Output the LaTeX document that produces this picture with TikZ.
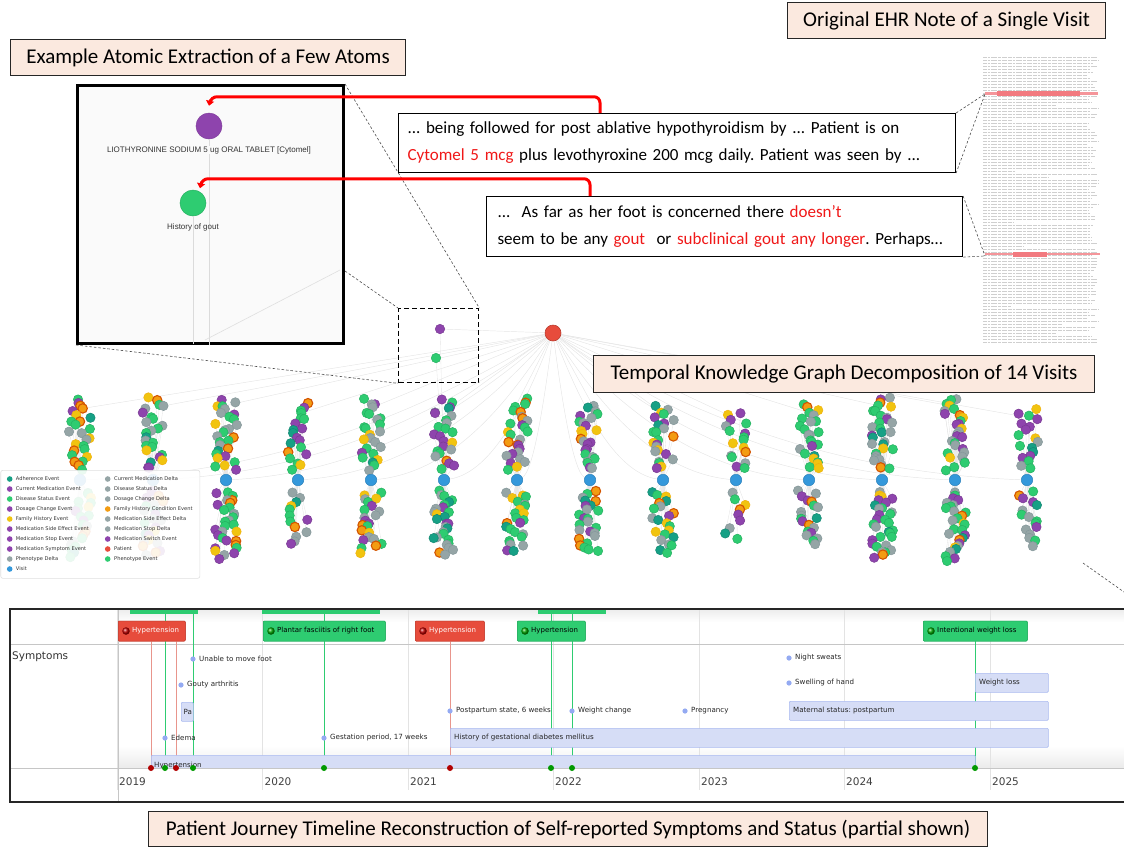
\documentclass[tikz,border=0pt]{standalone}
\usepackage{fontspec}
\setmainfont{Carlito}
\newfontfamily\arialf{Liberation Sans}
\newfontfamily\dejavu{DejaVu Sans}
\usetikzlibrary{arrows.meta,backgrounds}
\frenchspacing
\definecolor{peach}{HTML}{FBE9DF}
\definecolor{cgreen}{HTML}{2ECC71}
\definecolor{cgreenD}{HTML}{25B060}
\definecolor{cgray}{HTML}{95A5A6}
\definecolor{cgrayD}{HTML}{84979A}
\definecolor{cpurple}{HTML}{8E44AD}
\definecolor{corange}{HTML}{F39C12}
\definecolor{corangeD}{HTML}{D35400}
\definecolor{cyellow}{HTML}{F1C40F}
\definecolor{cyellowD}{HTML}{F0B010}
\definecolor{cteal}{HTML}{16A085}
\definecolor{cblue}{HTML}{3498DB}
\definecolor{cred}{HTML}{E74C3C}
\definecolor{tlred}{HTML}{E74C3C}
\definecolor{tlredline}{HTML}{E8958C}
\definecolor{tlgreen}{HTML}{2ECC71}
\definecolor{symdot}{HTML}{94AAF2}
\definecolor{symfill}{HTML}{D6DDF6}
\definecolor{symdraw}{HTML}{AABAF0}
\definecolor{hlred}{HTML}{F27A80}
\definecolor{txtred}{HTML}{F01818}
\tikzset{
  atom/.style={circle,inner sep=0pt,minimum size=9.4pt,line width=0.5pt},
  k1/.style={atom,fill=cgreen,draw=cgreenD},
  k2/.style={k1}, k3/.style={k1}, k4/.style={k1},
  k5/.style={atom,fill=cgray,draw=cgrayD},
  k6/.style={k5}, k7/.style={k5},
  k8/.style={atom,fill=cpurple,draw=cpurple!85!black},
  k9/.style={k8},
  k10/.style={atom,fill=corange,draw=corangeD,line width=1.1pt},
  k11/.style={atom,fill=cyellow,draw=cyellowD},
  k12/.style={atom,fill=cteal,draw=cteal!85!black},
  visit/.style={circle,inner sep=0pt,minimum size=11.5pt,fill=cblue,draw=cblue!85!black,line width=0.5pt},
  patient/.style={circle,inner sep=0pt,minimum size=16pt,fill=cred,draw=cred!80!black,line width=0.6pt},
  vedge/.style={draw=gray!20,line width=0.35pt},
  pedge/.style={draw=gray!20,line width=0.45pt},
  title/.style={draw=black!85,line width=1.1pt,fill=peach,inner sep=0pt,font=\fontsize{21}{24}\selectfont},
  textbox/.style={draw=black,line width=1.1pt,fill=white,align=left,font=\fontsize{17}{27}\selectfont},
  redarr/.style={draw=red,line width=3pt,rounded corners=6pt,-{Triangle[length=5pt,width=8pt]}},
  zoomline/.style={draw=black!70,line width=0.6pt,dash pattern=on 2.5pt off 2pt},
  ehrline/.style={draw=gray!38,line width=0.9pt,dash pattern=on 4pt off 0.9pt on 2.5pt off 0.9pt on 6pt off 0.9pt on 3pt off 0.9pt on 5pt off 0.9pt},
  ld/.style={circle,inner sep=0pt,minimum size=5.6pt},
  legtext/.style={anchor=west,inner sep=0pt,font=\dejavu\fontsize{5.1}{6}\selectfont,text=black!80},
  inlabel/.style={font=\arialf\fontsize{8}{9}\selectfont,text=black!80,inner sep=0pt},
  gridl/.style={draw=gray!22,line width=0.6pt},
  sepl/.style={draw=gray!45,line width=0.6pt},
  yearlab/.style={anchor=west,inner sep=0pt,font=\dejavu\fontsize{10.5}{12}\selectfont,text=black!75},
  tlbox/.style={rounded corners=1pt,inner sep=0pt,minimum height=20pt,anchor=west},
  rbox/.style={tlbox,fill=tlred,draw=tlred!85!black,line width=0.5pt},
  gbox/.style={tlbox,fill=tlgreen,draw=tlgreen!85!black,line width=0.5pt},
  tltext/.style={anchor=west,inner sep=0pt,font=\dejavu\fontsize{7}{8}\selectfont},
  rball/.style={circle,inner sep=0pt,minimum size=7.5pt,ball color=red!75!black},
  gball/.style={circle,inner sep=0pt,minimum size=7.5pt,ball color=green!65!black},
  rline/.style={draw=tlredline,line width=1pt},
  gline/.style={draw=tlgreen,line width=1pt},
  rdot/.style={circle,inner sep=0pt,minimum size=6pt,fill=red!70!black},
  gdot/.style={circle,inner sep=0pt,minimum size=6pt,fill=green!60!black},
  sdot/.style={circle,inner sep=0pt,minimum size=5.2pt,fill=symdot},
  stext/.style={anchor=west,inner sep=0pt,font=\dejavu\fontsize{7.1}{8}\selectfont,text=black!85},
  sbox/.style={rounded corners=1pt,fill=symfill,draw=symdraw,line width=0.7pt,inner sep=0pt,minimum height=19pt,anchor=north west},
}
\begin{document}
\begin{tikzpicture}[x=1pt,y=-1pt]
\useasboundingbox (0,0) rectangle (1124,847);

% ---------------- EHR note page ----------------
\pgfmathsetseed{99}
\foreach \q in {0,...,95}{
  \pgfmathsetmacro{\yy}{57+3*\q}
  \pgfmathsetmacro{\ww}{rnd<0.12 ? 20+60*rnd : 110+6*rand}
  \draw[ehrline] (983,\yy) -- ++(\ww,0);
}
\fill[hlred!80] (985,92) rectangle (1098,94.6);
\fill[hlred] (997,90.5) rectangle (1080,96);
\fill[hlred!80] (985,252.5) rectangle (1100,255);
\fill[hlred] (1013,251.5) rectangle (1047,257);
\coordinate (hl1) at (985,94);
\coordinate (hl2) at (985,256);

% ---------------- Knowledge graph ----------------
\node[patient] (pat) at (553,333) {};
\pgfmathsetseed{12345}
\foreach \ci/\vx/\nt/\ty/\nb/\by in {
 1/80/25/400/23/556, 2/153/25/398/23/556, 3/226/28/400/30/558,
 4/298/20/403/13/545, 5/371/25/400/23/552, 6/444/25/400/28/555,
 7/517/28/400/25/552, 8/590/25/406/25/552, 9/663/24/406/22/552,
 10/736/17/412/9/540, 11/809/25/404/20/545, 12/882/31/398/31/558,
 13/955/29/398/29/560, 14/1027/18/410/16/545}{
  \foreach \q in {1,...,\nt}{
    \pgfmathsetmacro{\yy}{\ty+(\q-1)*(469-\ty)/(\nt-1)+1.5*rand}
    \pgfmathsetmacro{\xx}{\vx+11*rand}
    \pgfmathrandominteger{\cc}{1}{12}
    \node[k\cc] (t\ci-\q) at (\xx,\yy) {};
  }
  \foreach \q in {1,...,\nb}{
    \pgfmathsetmacro{\yy}{492+(\q-1)*(\by-492)/(\nb-1)+1.5*rand}
    \pgfmathsetmacro{\xx}{\vx+11*rand}
    \pgfmathrandominteger{\cc}{1}{12}
    \node[k\cc] (b\ci-\q) at (\xx,\yy) {};
  }
  \node[visit] (v\ci) at (\vx,480) {};
  \pgfmathsetmacro{\ax}{(\vx-553)*0.25}
  \pgfmathsetmacro{\bx}{(553-\vx)*0.45}
  \begin{pgfonlayer}{background}
    \foreach \q in {1,...,\nt}{\draw[vedge] (v\ci) -- (t\ci-\q);}
    \foreach \q in {1,...,\nb}{\draw[vedge] (v\ci) -- (b\ci-\q);}
    \draw[pedge] (pat) .. controls +(\ax,70) and +(\bx,-8) .. (v\ci);
    \draw[pedge] (pat) -- (t\ci-4);
  \end{pgfonlayer}
}

% dashed box with two atoms
\node[draw,line width=1.3pt,dash pattern=on 5pt off 3pt,minimum width=80pt,minimum height=74pt,anchor=north west,inner sep=0pt] (dbox) at (398,308) {};
\node[k8,minimum size=9.5pt] (m1) at (440,329) {};
\node[k1,minimum size=9.5pt] (m2) at (436,358) {};
\begin{pgfonlayer}{background}
  \draw[vedge] (m1) -- (v6);
  \draw[vedge] (m2) -- (v6);
  \draw[pedge] (pat) -- (m1);
\end{pgfonlayer}

% legend
\node[draw=gray!25,fill=white,fill opacity=0.9,rounded corners=2pt,minimum width=199pt,minimum height=108pt,anchor=north west,inner sep=0pt,line width=0.6pt] (legend) at (0.5,470) {};
\foreach \lt/\lc [count=\n] in {Adherence Event/cteal, Current Medication Event/cpurple, Disease Status Event/cgreen, Dosage Change Event/cpurple, Family History Event/cyellow, Medication Side Effect Event/cpurple, Medication Stop Event/cpurple, Medication Symptom Event/cpurple, Phenotype Delta/cgray, Visit/cblue}{
  \node[ld,fill=\lc] (la\n) at (9.7,469+10*\n) {};
  \node[legtext] (lat\n) at (15.7,469+10*\n) {\lt};
}
\foreach \lt/\lc [count=\n] in {Current Medication Delta/cgray, Disease Status Delta/cgray, Dosage Change Delta/cgray, Family History Condition Event/corange, Medication Side Effect Delta/cgray, Medication Stop Delta/cgray, Medication Switch Event/cpurple, Patient/cred, Phenotype Event/cgreen}{
  \node[ld,fill=\lc] (lb\n) at (107.7,469+10*\n) {};
  \node[legtext] (lbt\n) at (114,469+10*\n) {\lt};
}

% ---------------- Inset ----------------
\node[draw=black,line width=3pt,fill=gray!4,minimum width=266pt,minimum height=258pt,anchor=north west,inner sep=0pt] (inset) at (76,84) {};
\node[k8,minimum size=26pt,draw=cpurple!90!black] (a1) at (209,126) {};
\node[k1,minimum size=26pt] (a2) at (193,203) {};
\draw[gray!28,line width=0.6pt] (a1.south) -- (a1.south |- inset.south);
\draw[gray!28,line width=0.6pt] (a2.south) -- ([yshift=1.5pt]a2.south |- inset.south);
\coordinate (inE) at (340,270);
\coordinate (inS) at (205,340);
\draw[gray!25,line width=0.6pt] (inE) -- (inS);
\node[inlabel,fill=gray!4] (l1) at (209,150) {LIOTHYRONINE SODIUM 5 ug ORAL TABLET [Cytomel]};
\node[inlabel] (l2) at (193,227) {History of gout};

% zoom callout lines
\draw[zoomline] (inset.north east) -- (dbox.north east);
\draw[zoomline] ([yshift=74pt]inset.south east) -- (dbox.north west);
\draw[zoomline] (inset.south west) -- (dbox.south west);

% ---------------- Text boxes ----------------
\node[textbox,anchor=north west,minimum width=557pt,minimum height=59pt,text width=539pt,inner xsep=9pt] (b1) at (398,113)
 {... being followed for post ablative hypothyroidism by ... Patient is on\\
  \textcolor{txtred}{Cytomel 5 mcg} plus levothyroxine 200 mcg daily. Patient was seen by ...};
\node[textbox,anchor=north west,minimum width=476pt,minimum height=60pt,text width=454pt,inner xsep=11pt] (b2) at (486,196)
 {...\ \ As far as her foot is concerned there \textcolor{txtred}{doesn’t}\\
  seem to be any \textcolor{txtred}{gout}\ \ or \textcolor{txtred}{subclinical gout any longer}. Perhaps…};
\draw[zoomline] (b1.north east) -- (hl1);
\draw[zoomline] (b1.south east) -- (hl1);
\draw[zoomline] (b2.north east) -- (hl2);
\draw[zoomline] (b2.south east) -- (hl2);

\draw[redarr] ([xshift=202pt]b1.north west) |- ([xshift=2pt,yshift=16pt]a1.north) -- ([yshift=7pt]a1.north);
\draw[redarr] ([xshift=104pt]b2.north west) |- ([xshift=9pt,yshift=11pt]a2.north) -- ([xshift=7pt,yshift=1.5pt]a2.north);

% ---------------- Titles ----------------
\node[title,minimum width=395pt,minimum height=36pt,anchor=north west] (t1) at (10,39) {Example Atomic Extraction of a Few Atoms};
\node[title,minimum width=318pt,minimum height=36pt,anchor=north west] (t2) at (787,2) {Original EHR Note of a Single Visit};
\node[title,minimum width=501pt,minimum height=37pt,anchor=north west] (t3) at (593,355) {Temporal Knowledge Graph Decomposition of 14 Visits};
\node[title,minimum width=839pt,minimum height=35pt,anchor=north west] (t4) at (148,811) {Patient Journey Timeline Reconstruction of Self-reported Symptoms and Status (partial shown)};

% ---------------- Timeline ----------------
\coordinate (dz1) at (1083,563);
\coordinate (dz2) at (1124,592);
\draw[zoomline] (dz1) -- (dz2);
\fill[white] (10,609) rectangle (1124,802);
\shade[top color=gray!14,bottom color=white] (118,610) rectangle (1124,622);
\shade[top color=white,bottom color=gray!16] (118,746) rectangle (1124,768);
\foreach \yr/\gx in {2019/117,2020/262.5,2021/408,2022/553,2023/699,2024/844,2025/990}{
  \draw[gridl] (\gx,610) -- (\gx,790);
  \node[yearlab] (y\yr) at (\gx+2,782) {\yr};
}
\draw[sepl] (10,644) -- (1124,644);
\draw[sepl] (118,610) -- (118,802);
\coordinate (tltop) at (0,610);
% partially visible top items
\fill[tlgreen] (130,609) rectangle (198,613.5);
\fill[tlgreen] (262,609) rectangle (380,613.5);
\fill[tlgreen] (538,609) rectangle (606,613.5);

% axis dot positions
\coordinate (d1) at (151,768);
\coordinate (d2) at (165,768);
\coordinate (d3) at (176,768);
\coordinate (d4) at (193,768);
\coordinate (d5) at (324,768);
\coordinate (d6) at (450,768);
\coordinate (d7) at (551,768);
\coordinate (d8) at (572,768);
\coordinate (d9) at (975,768);

% boxes in the top row (positions)
\node[rbox,minimum width=67pt] (h1) at (118,631) {};
\node[gbox,minimum width=122pt] (pf) at (263,631) {};
\node[rbox,minimum width=69pt] (h2) at (415,631) {};
\node[gbox,minimum width=68pt] (h3) at (517,631) {};
\node[gbox,minimum width=104pt] (iw) at (923,631) {};

% vertical lines
\draw[gline] (tltop -| d2) -- (d2);
\draw[gline] (tltop -| d4) -- (d4);
\draw[gline] (tltop -| d5) -- (d5);
\draw[gline] (tltop -| d7) -- (d7);
\draw[gline] (tltop -| d8) -- (d8);
\draw[rline] (h1.south -| d1) -- (d1);
\draw[rline] (h1.south -| d3) -- (d3);
\draw[rline] (h2.south -| d6) -- (d6);
\draw[gline] (iw.south -| d9) -- (d9);

% box tops over the lines
\node[rbox,minimum width=67pt] (h1b) at (118,631) {};
\node[rball] (h1i) at ([xshift=8pt]h1b.west) {};
\node[tltext,text=white] (h1t) at ([xshift=14pt]h1b.west) {Hypertension};
\node[gbox,minimum width=122pt] (pfb) at (263,631) {};
\node[gball] (pfi) at ([xshift=8pt]pfb.west) {};
\node[tltext] (pft) at ([xshift=14pt]pfb.west) {Plantar fasciitis of right foot};
\node[rbox,minimum width=69pt] (h2b) at (415,631) {};
\node[rball] (h2i) at ([xshift=8pt]h2b.west) {};
\node[tltext,text=white] (h2t) at ([xshift=14pt]h2b.west) {Hypertension};
\node[gbox,minimum width=68pt] (h3b) at (517,631) {};
\node[gball] (h3i) at ([xshift=8pt]h3b.west) {};
\node[tltext] (h3t) at ([xshift=14pt]h3b.west) {Hypertension};
\node[gbox,minimum width=104pt] (iwb) at (923,631) {};
\node[gball] (iwi) at ([xshift=8pt]iwb.west) {};
\node[tltext] (iwt) at ([xshift=14pt]iwb.west) {Intentional weight loss};

% symptoms
\node[anchor=west,inner sep=0pt,font=\dejavu\fontsize{10.5}{12}\selectfont,text=black!80] (symlab) at (12,657) {Symptoms};
\node[sdot] (s1) at (193,659) {};
\node[stext] (s1t) at (199,659) {Unable to move foot};
\node[sdot] (s2) at (181,685) {};
\node[stext] (s2t) at (187,685) {Gouty arthritis};
\node[sbox,minimum width=12pt] (pa) at (181,702) {};
\node[stext] (pat2) at (183.5,711.5) {Pa};
\node[sdot] (s3) at (165,738) {};
\node[stext] (s3t) at (171,738) {Edema};
\node[sdot] (s4) at (324,738) {};
\node[stext] (s4t) at (330,738) {Gestation period, 17 weeks};
\node[sdot] (s5) at (450,711) {};
\node[stext] (s5t) at (456,711) {Postpartum state, 6 weeks};
\node[sbox,minimum width=598pt] (gd) at (450,728) {};
\node[stext] (gdt) at (454,737.5) {History of gestational diabetes mellitus};
\node[sdot] (s6) at (572,711) {};
\node[stext] (s6t) at (578,711) {Weight change};
\node[sdot] (s7) at (685,711) {};
\node[stext] (s7t) at (691,711) {Pregnancy};
\node[sdot] (s8) at (789,658) {};
\node[stext] (s8t) at (795,658) {Night sweats};
\node[sdot] (s9) at (789,683) {};
\node[stext] (s9t) at (795,683) {Swelling of hand};
\node[sbox,minimum width=259pt] (ms) at (789,701) {};
\node[stext] (mst) at (793,710.5) {Maternal status: postpartum};
\node[sbox,minimum width=73pt] (wl) at (975,673) {};
\node[stext] (wlt) at (979,682.5) {Weight loss};
\begin{scope}
  \clip (118,610) rectangle (1124,767.5);
  \node[sbox,minimum width=824pt,minimum height=14pt] (hb) at (151,755) {};
  \node[stext] (hbt) at (154,766) {Hypertension};
\end{scope}
\draw[sepl] (10,768) -- (1124,768);

% axis dots
\node[rdot] (e1) at (d1) {};
\node[gdot] (e2) at (d2) {};
\node[rdot] (e3) at (d3) {};
\node[gdot] (e4) at (d4) {};
\node[gdot] (e5) at (d5) {};
\node[rdot] (e6) at (d6) {};
\node[gdot] (e7) at (d7) {};
\node[gdot] (e8) at (d8) {};
\node[gdot] (e9) at (d9) {};

% frame
\draw[black!85,line width=1.6pt] (1124,609) -- (10,609) -- (10,802) -- (1124,802);
\end{tikzpicture}
\end{document}
